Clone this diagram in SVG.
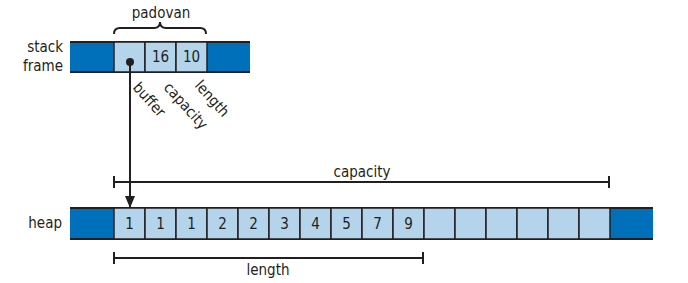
<svg xmlns="http://www.w3.org/2000/svg" width="688" height="283" viewBox="0 0 688 283">
<defs>
<style>
text{font-family:"Liberation Sans Narrow","DejaVu Sans Condensed","Liberation Sans",sans-serif;font-size:15px;fill:#231f20}
.dark{fill:#0070ba}
.cell{fill:#b3d4ea;stroke:#231f20;stroke-width:1.5}
.edge{stroke:#231f20;stroke-width:2;fill:none}
.v{text-anchor:middle}
</style>
<marker id="ah" markerWidth="12" markerHeight="10" refX="12" refY="5" orient="auto" markerUnits="userSpaceOnUse"><path d="M0,0 L12,5 L0,10 Z" fill="#231f20"/></marker>
</defs>
<g id="stack">
<text x="63" y="52" text-anchor="end">stack</text>
<text x="63" y="71" text-anchor="end">frame</text>
<rect class="dark" x="70" y="42" width="180" height="30"/>
<line class="edge" x1="70" y1="42" x2="250" y2="42"/>
<line class="edge" x1="70" y1="72" x2="250" y2="72"/>
</g>
<g id="padovan">
<path class="edge" stroke-width="1.5" d="M114,34 Q114,28 120,28 L154,28 Q160,28 160,22 Q160,28 166,28 L200,28 Q206,28 206,34"/>
<text x="161" y="18" class="v">padovan</text>
<rect class="cell" x="114" y="42" width="31" height="30"/>
<rect class="cell" x="145" y="42" width="31" height="30"/>
<rect class="cell" x="176" y="42" width="31" height="30"/>
<text x="160.5" y="62" class="v">16</text>
<text x="191.5" y="62" class="v">10</text>
<circle cx="130" cy="62" r="4" fill="#231f20"/>
<text transform="translate(132,88) rotate(48)">buffer</text>
<text transform="translate(163,88) rotate(48)">capacity</text>
<text transform="translate(194,86) rotate(48)">length</text>
</g>
<g id="heap">
<text x="62" y="228" text-anchor="end">heap</text>
<rect class="dark" x="70" y="208" width="583" height="31"/>
<line class="edge" x1="70" y1="208" x2="653" y2="208"/>
<line class="edge" x1="70" y1="239" x2="653" y2="239"/>
<rect class="cell" x="114" y="208" width="31" height="31"/>
<rect class="cell" x="145" y="208" width="31" height="31"/>
<rect class="cell" x="176" y="208" width="31" height="31"/>
<rect class="cell" x="207" y="208" width="31" height="31"/>
<rect class="cell" x="238" y="208" width="31" height="31"/>
<rect class="cell" x="269" y="208" width="31" height="31"/>
<rect class="cell" x="300" y="208" width="31" height="31"/>
<rect class="cell" x="331" y="208" width="31" height="31"/>
<rect class="cell" x="362" y="208" width="31" height="31"/>
<rect class="cell" x="393" y="208" width="31" height="31"/>
<rect class="cell" x="424" y="208" width="31" height="31"/>
<rect class="cell" x="455" y="208" width="31" height="31"/>
<rect class="cell" x="486" y="208" width="31" height="31"/>
<rect class="cell" x="517" y="208" width="31" height="31"/>
<rect class="cell" x="548" y="208" width="31" height="31"/>
<rect class="cell" x="579" y="208" width="31" height="31"/>
<text x="129.5" y="229" class="v">1</text>
<text x="160.5" y="229" class="v">1</text>
<text x="191.5" y="229" class="v">1</text>
<text x="222.5" y="229" class="v">2</text>
<text x="253.5" y="229" class="v">2</text>
<text x="284.5" y="229" class="v">3</text>
<text x="315.5" y="229" class="v">4</text>
<text x="346.5" y="229" class="v">5</text>
<text x="377.5" y="229" class="v">7</text>
<text x="408.5" y="229" class="v">9</text>
</g>
<g id="capacity">
<path class="edge" d="M114,176 V188 M114,182 H609 M609,176 V188"/>
<text x="362" y="177" class="v">capacity</text>
</g>
<g id="length">
<path class="edge" d="M114,252 V264 M114,258 H423 M423,252 V264"/>
<text x="268" y="275" class="v">length</text>
</g>
<g id="connectors">
<line class="edge" x1="130" y1="62" x2="130" y2="208" marker-end="url(#ah)"/>
</g>
</svg>
